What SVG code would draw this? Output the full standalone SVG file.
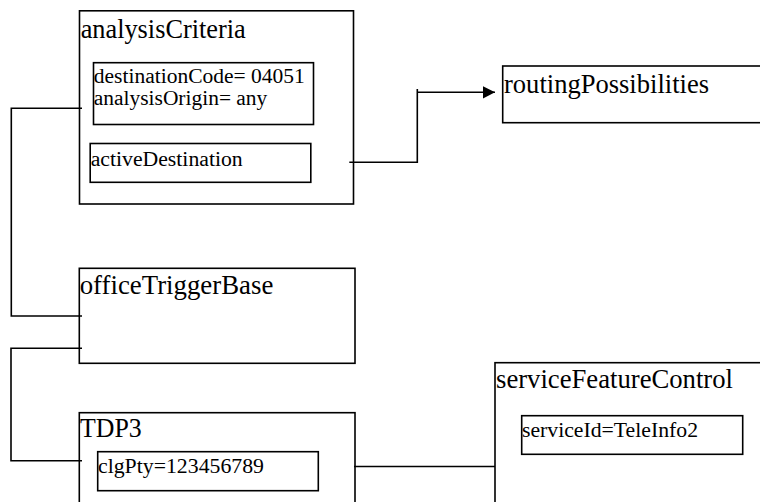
<svg xmlns="http://www.w3.org/2000/svg" width="760" height="502" viewBox="0 0 760 502">
<style>
.box{fill:none;stroke:#000;stroke-width:1.6}
.ln{fill:none;stroke:#000;stroke-width:1.6}
text{font-family:'Liberation Serif','Times New Roman',serif;fill:#000}
.t{font-size:26.5px}
.s{font-size:21.6px}
</style>
<defs>
<marker id="arr" markerUnits="userSpaceOnUse" markerWidth="14" markerHeight="14" refX="12.3" refY="6.3" orient="auto">
<path d="M0,0 L12.3,6.3 L0,12.6 Z" fill="#000"/>
</marker>
</defs>
<rect width="760" height="502" fill="#fff"/>
<g id="analysisCriteria">
<rect class="box" x="79.5" y="10.8" width="274" height="193.2"/>
<text class="t" x="80.7" y="37.5" textLength="165" lengthAdjust="spacingAndGlyphs">analysisCriteria</text>
<g id="criteriaValues">
<rect class="box" x="93.5" y="62.7" width="220" height="61.8"/>
<text class="s" x="93.8" y="82.5" textLength="211" lengthAdjust="spacingAndGlyphs">destinationCode= 04051</text>
<text class="s" x="93.8" y="104.5" textLength="173.5" lengthAdjust="spacingAndGlyphs">analysisOrigin= any</text>
</g>
<g id="activeDestination">
<rect class="box" x="90.2" y="143.5" width="220.6" height="38.8"/>
<text class="s" x="90.7" y="166" textLength="152" lengthAdjust="spacingAndGlyphs">activeDestination</text>
</g>
</g>
<g id="routingPossibilities">
<rect class="box" x="502.7" y="66" width="280" height="56.7"/>
<text class="t" x="504" y="92.5" textLength="205" lengthAdjust="spacingAndGlyphs">routingPossibilities</text>
</g>
<g id="officeTriggerBase">
<rect class="box" x="79.3" y="268.3" width="275.7" height="95"/>
<text class="t" x="79.7" y="294.3" textLength="193.6" lengthAdjust="spacingAndGlyphs">officeTriggerBase</text>
</g>
<g id="TDP3">
<rect class="box" x="79.3" y="412.7" width="275.7" height="120"/>
<text class="t" x="80" y="437.3" textLength="61.7" lengthAdjust="spacingAndGlyphs">TDP3</text>
<g id="clgPty">
<rect class="box" x="97.7" y="451.7" width="220.6" height="39"/>
<text class="s" x="98" y="473" textLength="166" lengthAdjust="spacingAndGlyphs">clgPty=123456789</text>
</g>
</g>
<g id="serviceFeatureControl">
<rect class="box" x="495" y="362.7" width="300" height="200"/>
<text class="t" x="496" y="388.3" textLength="237" lengthAdjust="spacingAndGlyphs">serviceFeatureControl</text>
<g id="serviceId">
<rect class="box" x="521.7" y="415.7" width="221" height="38.6"/>
<text class="s" x="522" y="436.5" textLength="176" lengthAdjust="spacingAndGlyphs">serviceId=TeleInfo2</text>
</g>
</g>
<g id="connectors">
<polyline class="ln" points="82,108.3 11.3,108.3 11.3,316 82,316"/>
<polyline class="ln" points="82,348.3 11,348.3 11,460.7 82,460.7"/>
<polyline class="ln" points="349.3,162.3 417.3,162.3 417.3,89"/>
<line class="ln" x1="417.3" y1="92.3" x2="495" y2="92.3" marker-end="url(#arr)"/>
<line class="ln" x1="354" y1="466.5" x2="495" y2="466.5"/>
</g>
</svg>
